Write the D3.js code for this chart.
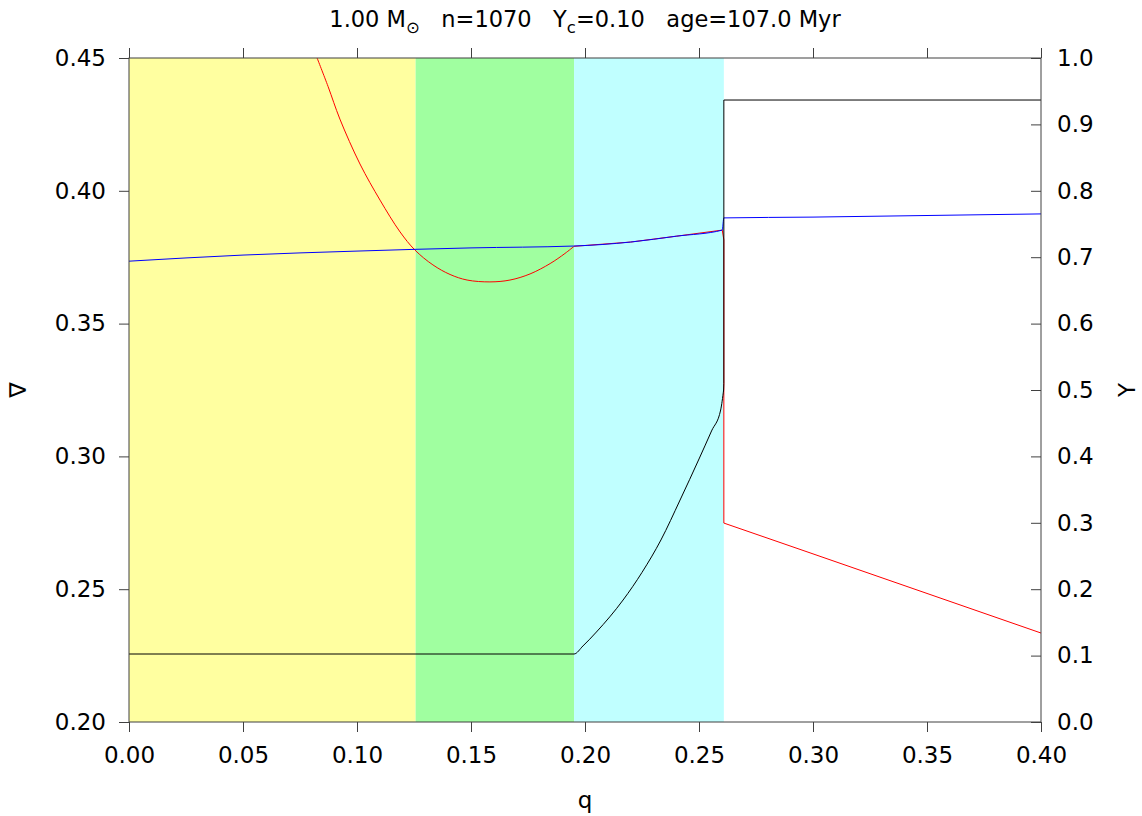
<!DOCTYPE html>
<html>
<head>
<meta charset="utf-8">
<script src="https://cdn.jsdelivr.net/npm/d3@7"></script>
<style>
  body { margin: 0; background: #fff; }
  text { font-family: "DejaVu Sans", sans-serif; fill: #000; }
</style>
</head>
<body>
<div id="chart"></div>
<script>
// zone boundaries in q
var zoneEdges = [0, 0.1257, 0.1952, 0.2609];
var zoneColors = ["#ffffa0", "#a0ffa0", "#c0ffff"];

// grad_ad (blue), left axis
var adQ = [0, 0.05, 0.10, 0.15, 0.195, 0.22, 0.24, 0.2602, 0.2609, 0.30, 0.35, 0.40];
var adV = [0.3735, 0.3758, 0.3773, 0.3785, 0.3792, 0.3807, 0.3829, 0.3852, 0.3898, 0.3901, 0.3907, 0.3913];

// grad_rad (red), left axis - smooth part
var radQ = [0.0825, 0.0873, 0.0925, 0.1013, 0.1101, 0.1189, 0.1254, 0.1333, 0.1408, 0.1483, 0.1583, 0.1671, 0.1759, 0.1847, 0.1912, 0.1952];
var radV = [0.4500, 0.4393, 0.4270, 0.4101, 0.3965, 0.3845, 0.3777, 0.3721, 0.3685, 0.3664, 0.3657, 0.3664, 0.3687, 0.3726, 0.3764, 0.3791];
// grad_rad (red) - outer part, after it joins grad_ad
var radQ2 = [0.1952, 0.22, 0.24, 0.2602, 0.2609, 0.2609, 0.30, 0.35, 0.40];
var radV2 = [0.3791, 0.3807, 0.3829, 0.3852, 0.3815, 0.2749, 0.2633, 0.2484, 0.2335];

// helium abundance Y (black), right axis - flat core and rising profile
var yQ = [0, 0.1952, 0.1991, 0.2050, 0.2167, 0.2250, 0.2333, 0.2417, 0.2500, 0.2555, 0.2595, 0.2608];
var yV = [0.1024, 0.1024, 0.1145, 0.1355, 0.1837, 0.2253, 0.2741, 0.3343, 0.3961, 0.4383, 0.4699, 0.5000];
// envelope step
var yQ2 = [0.2608, 0.2609, 0.2609, 0.40];
var yV2 = [0.5000, 0.5100, 0.9367, 0.9367];

var xTicks = [0, 0.05, 0.10, 0.15, 0.20, 0.25, 0.30, 0.35, 0.40];
var yTicks = [0.20, 0.25, 0.30, 0.35, 0.40, 0.45];
var y2Ticks = [0, 0.1, 0.2, 0.3, 0.4, 0.5, 0.6, 0.7, 0.8, 0.9, 1.0];

var W = 1142, H = 816,
    m = {l: 129, r: 101, t: 58, b: 94},
    w = W - m.l - m.r,
    h = H - m.t - m.b;

var x = d3.scaleLinear().domain([0, 0.4]).range([0, w]),
    y = d3.scaleLinear().domain([0.2, 0.45]).range([h, 0]),
    y2 = d3.scaleLinear().domain([0, 1]).range([h, 0]);

var svg = d3.select("#chart").append("svg")
    .attr("width", W)
    .attr("height", H);

var g = svg.append("g").attr("transform", "translate(" + m.l + "," + m.t + ")");

// shaded zones
g.selectAll("rect.zone")
    .data(zoneColors)
  .enter().append("rect")
    .attr("class", "zone")
    .attr("x", function(d, i) { return x(zoneEdges[i]); })
    .attr("y", 0)
    .attr("width", function(d, i) { return x(zoneEdges[i + 1]) - x(zoneEdges[i]); })
    .attr("height", h)
    .style("fill", function(d) { return d; });

function pts(qs, vs) {
  return qs.map(function(q, i) { return [q, vs[i]]; });
}

function mkLine(ys, curve) {
  return d3.line().curve(curve || d3.curveLinear)
    .x(function(d) { return x(d[0]); })
    .y(function(d) { return ys(d[1]); });
}

svg.append("clipPath").attr("id", "clip")
  .append("rect").attr("width", w).attr("height", h);

var curves = g.append("g").attr("clip-path", "url(#clip)");

function draw(data, gen, color) {
  curves.append("path")
      .datum(data)
      .attr("d", gen)
      .style("fill", "none").style("stroke", color).style("stroke-width", 1);
}

draw(pts(radQ, radV), mkLine(y, d3.curveCatmullRom), "#ff0000");
draw(pts(radQ2, radV2), mkLine(y), "#ff0000");
draw(pts(adQ, adV), mkLine(y, d3.curveMonotoneX), "#0000ff");
draw(pts(yQ, yV), mkLine(y2, d3.curveMonotoneX), "#000");
draw(pts(yQ2, yV2), mkLine(y2), "#000");

// axes
var fmt2 = d3.format(".2f"), fmt1 = d3.format(".1f");

g.append("g")
    .attr("class", "axis")
    .attr("transform", "translate(0," + h + ")")
    .call(d3.axisBottom(x).tickValues(xTicks).tickFormat(fmt2).tickSize(10).tickPadding(15));

g.append("g")
    .attr("class", "axis top")
    .call(d3.axisTop(x).tickValues(xTicks).tickFormat("").tickSize(10));

g.append("g")
    .attr("class", "axis")
    .call(d3.axisLeft(y).tickValues(yTicks).tickFormat(fmt2).tickSize(10).tickPadding(13));

g.append("g")
    .attr("class", "axis right")
    .attr("transform", "translate(" + w + ",0)")
    .call(d3.axisRight(y2).tickValues(y2Ticks).tickFormat(fmt1).tickSize(-10).tickPadding(16));

g.selectAll(".axis path.domain").remove();
g.selectAll(".axis .tick line").style("stroke", "#404040");
g.selectAll(".axis text").style("font-size", "23px").style("font-family", "DejaVu Sans, sans-serif").style("fill", "#000");

// frame
g.append("rect")
    .attr("width", w).attr("height", h)
    .style("fill", "none").style("stroke", "#404040").style("stroke-width", 1);

// labels
svg.append("text")
    .attr("x", m.l + w / 2).attr("y", 808)
    .attr("text-anchor", "middle")
    .style("font-size", "23px")
    .text("q");

svg.append("text")
    .attr("transform", "translate(26," + (m.t + h / 2) + ") rotate(-90)")
    .attr("text-anchor", "middle")
    .style("font-size", "23px")
    .text("∇");

svg.append("text")
    .attr("transform", "translate(1135," + (m.t + h / 2) + ") rotate(-90)")
    .attr("text-anchor", "middle")
    .style("font-size", "23px")
    .text("Y");

var title = svg.append("text")
    .attr("x", m.l + w / 2).attr("y", 27)
    .attr("text-anchor", "middle")
    .style("font-size", "22.5px");
title.append("tspan").text("1.00 M");
title.append("tspan").attr("dy", 6).style("font-size", "16.5px").text("⊙");
title.append("tspan").attr("dy", -6).text("\u00a0\u00a0\u00a0n=1070\u00a0\u00a0\u00a0Y");
title.append("tspan").attr("dy", 6).style("font-size", "16.5px").text("c");
title.append("tspan").attr("dy", -6).text("=0.10\u00a0\u00a0\u00a0age=107.0 Myr");
</script>
</body>
</html>
